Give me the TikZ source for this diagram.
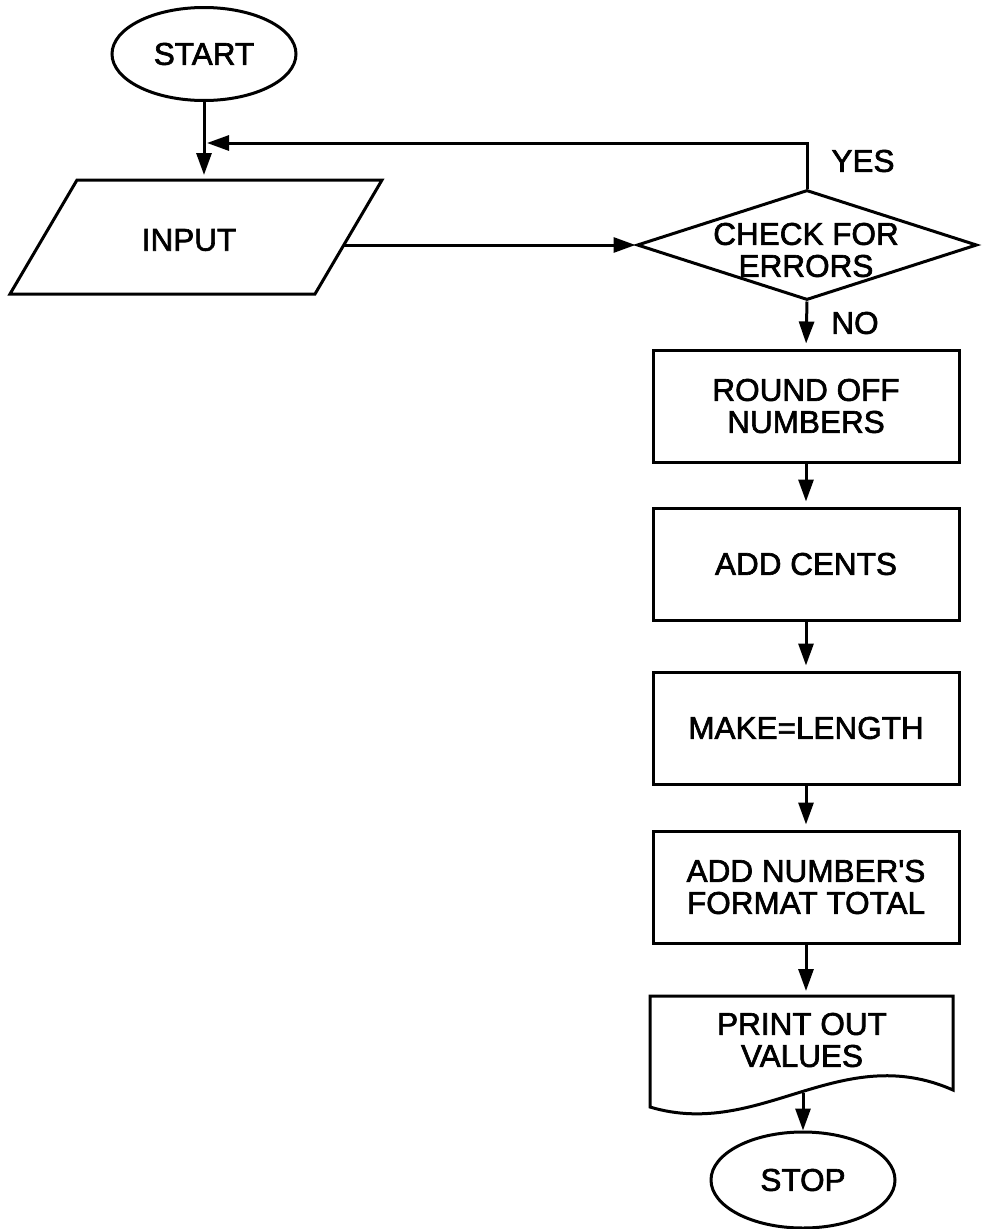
\documentclass[tikz,border=0pt]{standalone}
\usepackage{fontspec}
\setmainfont{Liberation Sans}
\newfontfamily\hv{Liberation Sans}[RawFeature={embolden=2}]
\usetikzlibrary{shapes.geometric,arrows.meta}
\begin{document}
\begin{tikzpicture}[x=1pt,y=-1pt,
  every node/.style={font=\hv\fontsize{31.5}{32}\selectfont},
  ln/.style={line width=3pt},
  arr/.style={line width=3pt,-{Triangle[length=22pt,width=15pt]}},
  varr/.style={arr,shorten >=5pt},
  term/.style={draw,ellipse,line width=3pt,minimum width=184pt,minimum height=93pt,inner sep=0pt},
  proc/.style={draw,rectangle,line width=3pt,minimum width=306pt,minimum height=112pt,align=center,inner sep=0pt},
  lbl/.style={align=center,inner sep=0pt}]
\useasboundingbox (0,0) rectangle (984,1229);

% START
\node[term] (start) at (204,54) {START};

% INPUT parallelogram
\coordinate (inTL) at (77,180);
\coordinate (inTR) at (382,180);
\coordinate (inBR) at (315,294);
\coordinate (inBL) at (10,294);
\draw[ln,line join=miter] (inTL) -- (inTR) -- (inBR) -- (inBL) -- cycle;
\node[lbl] (input) at (189,240) {INPUT};
\coordinate (inT) at (204,180);
\coordinate (inR) at (344,245);

% decision
\node[draw,diamond,line width=3pt,minimum width=340pt,minimum height=110pt,inner sep=0pt] (dia) at (807,245) {};
\node[lbl] (chk) at (806,250) {CHECK FOR\\ERRORS};
\node[lbl] (yes) at (863,161) {YES};
\node[lbl] (no) at (855,323) {NO};
\coordinate (loopEnd) at (207,143);

% process boxes
\node[proc] (round) at (806,406) {ROUND OFF\\NUMBERS};
\node[proc] (cents) at (806,564) {ADD CENTS};
\node[proc] (make) at (806,728) {MAKE=LENGTH};
\node[proc] (addn) at (806,887) {ADD NUMBER'S\\FORMAT TOTAL};

% document shape
\draw[ln,line join=miter] (650,996) -- (953,996) -- (953,1090)
  .. controls (840,1040) and (760,1140) .. (650,1107) -- cycle;
\node[lbl] (print) at (802,1040) {PRINT OUT\\VALUES};
\coordinate (printT) at (806,996);
\coordinate (printB) at (803,1093);

% STOP
\node[term,minimum height=96pt] (stop) at (803,1180) {STOP};

% connectors
\draw[varr] (start.south) -- (inT);
\draw[arr] (dia.north) -- (dia.north |- loopEnd) -- (loopEnd);
\draw[arr] (inR) -- (dia.west);
\draw[varr] (dia.south) -- (round.north);
\draw[varr] (round.south) -- (cents.north);
\draw[varr] (cents.south) -- (make.north);
\draw[varr] (make.south) -- (addn.north);
\draw[varr] (addn.south) -- (printT);
\draw[arr] (printB) -- (stop.north);
\end{tikzpicture}
\end{document}
